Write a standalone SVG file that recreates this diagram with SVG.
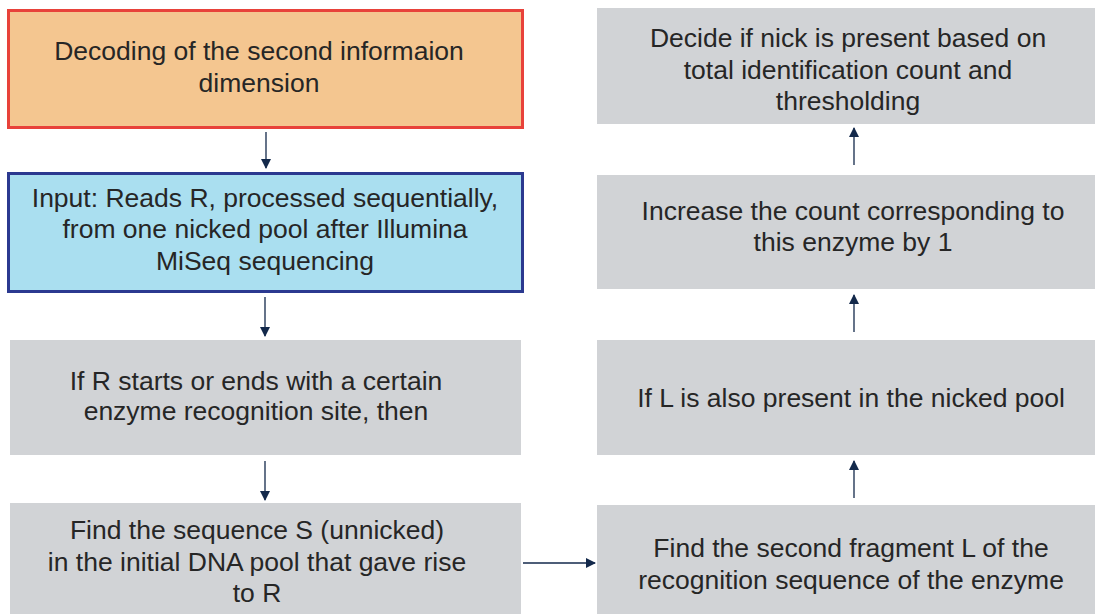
<svg xmlns="http://www.w3.org/2000/svg" width="1095" height="614" viewBox="0 0 1095 614">
<defs>
<style>
text{font-family:"Liberation Sans",Arial,sans-serif;font-size:26.5px;fill:#262626;text-anchor:middle}
.g{fill:#d1d3d6}
.c{stroke:#13294b;stroke-width:1.3;fill:none}
</style>
<marker id="ah" markerWidth="10" markerHeight="10" refX="9" refY="5" orient="auto" markerUnits="userSpaceOnUse" viewBox="0 0 10 10">
<path d="M0,0 L10,5 L0,10 Z" fill="#13294b"/>
</marker>
</defs>
<rect width="1095" height="614" fill="#fff"/>
<g id="n1">
<rect x="8.5" y="10.5" width="514" height="117" fill="#f4c690" stroke="#e8423a" stroke-width="3"/>
<text x="259" y="60">Decoding of the second informaion</text>
<text x="259" y="92">dimension</text>
</g>
<g id="n2">
<rect x="8.5" y="173.5" width="514" height="118" fill="#aadff0" stroke="#2b3990" stroke-width="3"/>
<text x="265" y="207">Input: Reads R, processed sequentially,</text>
<text x="265" y="238">from one nicked pool after Illumina</text>
<text x="265" y="270">MiSeq sequencing</text>
</g>
<g id="n3">
<rect class="g" x="10" y="340" width="511" height="115"/>
<text x="256" y="390">If R starts or ends with a certain</text>
<text x="256" y="420">enzyme recognition site, then</text>
</g>
<g id="n4">
<rect class="g" x="10" y="503" width="511" height="111"/>
<text x="257" y="539">Find the sequence S (unnicked)</text>
<text x="257" y="571">in the initial DNA pool that gave rise</text>
<text x="257" y="602">to R</text>
</g>
<g id="n5">
<rect class="g" x="597" y="505" width="498" height="109"/>
<text x="851" y="557">Find the second fragment L of the</text>
<text x="851" y="589">recognition sequence of the enzyme</text>
</g>
<g id="n6">
<rect class="g" x="597" y="340" width="498" height="115"/>
<text x="851" y="407">If L is also present in the nicked pool</text>
</g>
<g id="n7">
<rect class="g" x="597" y="175" width="498" height="114"/>
<text x="853" y="220">Increase the count corresponding to</text>
<text x="853" y="251">this enzyme by 1</text>
</g>
<g id="n8">
<rect class="g" x="597" y="8" width="498" height="116"/>
<text x="848" y="47">Decide if nick is present based on</text>
<text x="848" y="79">total identification count and</text>
<text x="848" y="110">thresholding</text>
</g>
<g id="connectors">
<line class="c" x1="266" y1="132" x2="266" y2="168" marker-end="url(#ah)"/>
<line class="c" x1="265" y1="297" x2="265" y2="336" marker-end="url(#ah)"/>
<line class="c" x1="265" y1="461" x2="265" y2="500" marker-end="url(#ah)"/>
<line class="c" x1="523" y1="563" x2="595" y2="563" marker-end="url(#ah)"/>
<line class="c" x1="854" y1="498" x2="854" y2="461" marker-end="url(#ah)"/>
<line class="c" x1="854" y1="332" x2="854" y2="295" marker-end="url(#ah)"/>
<line class="c" x1="854" y1="165" x2="854" y2="128" marker-end="url(#ah)"/>
</g>
</svg>
